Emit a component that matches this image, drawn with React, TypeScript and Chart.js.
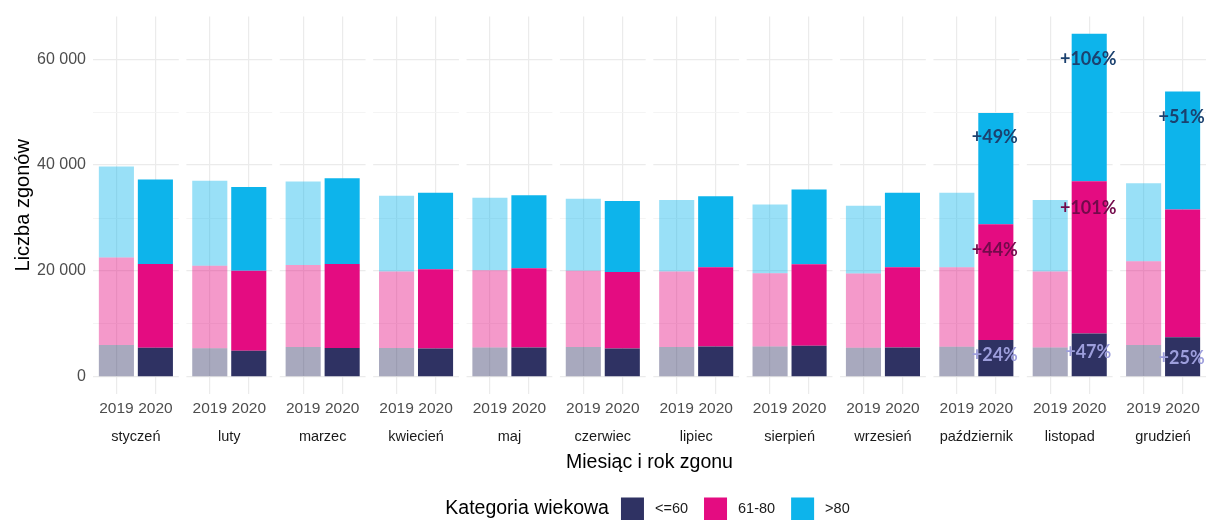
import React, { useEffect, useRef } from 'react';
import { Chart, registerables } from 'chart.js';

Chart.register(...registerables);

const MONTHS = ['styczeń', 'luty', 'marzec', 'kwiecień', 'maj', 'czerwiec', 'lipiec', 'sierpień', 'wrzesień', 'październik', 'listopad', 'grudzień'];
const YEARS = ['2019', '2020'];
const AGE_GROUPS = ['<=60', '61-80', '>80'];

const UNDER60_2019 = [6000, 5380, 5625, 5440, 5560, 5625, 5625, 5750, 5500, 5690, 5560, 6000];
const MID_2019 = [16560, 15620, 15505, 14440, 14560, 14435, 14255, 13810, 14000, 15000, 14320, 15810];
const OVER80_2019 = [17190, 16060, 15750, 14310, 13690, 13560, 13500, 13000, 12810, 14060, 13500, 14750];

const UNDER60_2020 = [5500, 4940, 5440, 5370, 5560, 5370, 5750, 5870, 5560, 6940, 8190, 7500];
const MID_2020 = [15810, 15120, 15870, 14940, 14940, 14440, 14940, 15380, 15130, 21880, 28750, 24130];
const OVER80_2020 = [15940, 15810, 16190, 14440, 13810, 13380, 13440, 14130, 14060, 21000, 27880, 22240];

const Y_TICKS = [0, 10000, 20000, 30000, 40000, 50000, 60000];
const Y_LABELED = [0, 20000, 40000, 60000];

const ANNOT_TEXT = ['+49%', '+44%', '+24%', '+106%', '+101%', '+47%', '+51%', '+25%'];
const ANNOT_MONTH = [9, 9, 9, 10, 10, 10, 11, 11];
const ANNOT_GROUP = [2, 1, 0, 2, 1, 0, 2, 0];
const ANNOT_Y = [45200, 24000, 4130, 60000, 31890, 4690, 48960, 3560];

// layout (facet-like panels on a linear axis)
const PERIOD = 2.395;
const X_MIN = 0.4;
const X_MAX = 11 * PERIOD + 2.6;
const xPos = (m: number, y: number) => m * PERIOD + 1 + y;

const SOLID = ['#2f3263', '#e40c81', '#0db4eb'];
const FADED = ['rgba(47,50,99,0.42)', 'rgba(228,12,129,0.42)', 'rgba(13,180,235,0.42)'];
const ANNOT_COLORS = ['#9d9edc', '#730a4b', '#1b416f'];
const FONT = '"Liberation Sans", Arial, sans-serif';

const fmt = (v: number) => String(v).replace(/\B(?=(\d{3})+(?!\d))/g, ' ');

export default function App() {
  const ref = useRef<HTMLCanvasElement | null>(null);

  useEffect(() => {
    document.body.style.margin = '0';
    const canvas = ref.current;
    if (!canvas) return;

    const groups = [
      [UNDER60_2019, UNDER60_2020],
      [MID_2019, MID_2020],
      [OVER80_2019, OVER80_2020],
    ];

    const datasets = groups.map((g, gi) => {
      const data: { x: number; y: number }[] = [];
      const colors: string[] = [];
      MONTHS.forEach((_, m) => {
        YEARS.forEach((__, yi) => {
          data.push({ x: xPos(m, yi), y: g[yi][m] });
          colors.push(yi === 0 ? FADED[gi] : SOLID[gi]);
        });
      });
      return {
        label: AGE_GROUPS[gi],
        data,
        backgroundColor: colors,
        borderWidth: 0,
        stack: 'all',
        categoryPercentage: 1,
        barPercentage: 0.9,
      };
    });

    const tickPositions: number[] = [];
    MONTHS.forEach((_, m) => YEARS.forEach((__, yi) => tickPositions.push(xPos(m, yi))));

    const panelPlugin = {
      id: 'panels',
      beforeDatasetsDraw(chart: any) {
        const { ctx, chartArea, scales } = chart;
        const xs = scales.x;
        ctx.save();
        ctx.fillStyle = '#ffffff';
        for (let i = 0; i < MONTHS.length - 1; i++) {
          const x1 = xs.getPixelForValue(i * PERIOD + 2.6);
          const x2 = xs.getPixelForValue((i + 1) * PERIOD + 0.4);
          ctx.fillRect(x1, chartArea.top - 2, x2 - x1, chartArea.bottom - chartArea.top + 4);
        }
        ctx.restore();
      },
      afterDraw(chart: any) {
        const { ctx, chartArea, scales } = chart;
        const xs = scales.x;
        const ys = scales.y;
        ctx.save();

        // month labels
        ctx.fillStyle = '#1a1a1a';
        ctx.font = `14.5px ${FONT}`;
        ctx.textAlign = 'center';
        ctx.textBaseline = 'middle';
        MONTHS.forEach((name, m) => {
          ctx.fillText(name, xs.getPixelForValue(m * PERIOD + 1.5), 437);
        });

        // axis titles
        ctx.fillStyle = '#000000';
        ctx.font = `19.5px ${FONT}`;
        ctx.fillText('Miesiąc i rok zgonu', (chartArea.left + chartArea.right) / 2, 463);
        ctx.save();
        ctx.translate(23, (chartArea.top + chartArea.bottom) / 2);
        ctx.rotate(-Math.PI / 2);
        ctx.font = `20px ${FONT}`;
        ctx.fillText('Liczba zgonów', 0, 0);
        ctx.restore();

        // annotations
        ctx.font = `bold 18px Lato, "Open Sans", sans-serif`;
        ANNOT_TEXT.forEach((t, i) => {
          ctx.fillStyle = ANNOT_COLORS[ANNOT_GROUP[i]];
          ctx.fillText(t, xs.getPixelForValue(xPos(ANNOT_MONTH[i], 1)) - 1, ys.getPixelForValue(ANNOT_Y[i]));
        });

        // legend
        const title = 'Kategoria wiekowa';
        const titleFont = `19.5px ${FONT}`;
        const labelFont = `14.5px ${FONT}`;
        ctx.font = titleFont;
        const titleW = ctx.measureText(title).width;
        ctx.font = labelFont;
        const labelWs = AGE_GROUPS.map((l) => ctx.measureText(l).width);
        const box = 23, gapTitle = 12, gapLabel = 11, gapItem = 16;
        let total = titleW;
        labelWs.forEach((w, i) => {
          total += gapTitle * (i === 0 ? 1 : 0) + (i > 0 ? gapItem : 0) + box + gapLabel + w;
        });
        let x = (chartArea.left + chartArea.right) / 2 - total / 2 - 2;
        const cy = 509;
        ctx.textAlign = 'left';
        ctx.fillStyle = '#000000';
        ctx.font = titleFont;
        ctx.fillText(title, x, cy);
        x += titleW + gapTitle;
        AGE_GROUPS.forEach((l, i) => {
          if (i > 0) x += gapItem;
          ctx.fillStyle = SOLID[i];
          ctx.fillRect(x, cy - box / 2, box, box);
          x += box + gapLabel;
          ctx.fillStyle = '#1a1a1a';
          ctx.font = labelFont;
          ctx.fillText(l, x, cy);
          x += labelWs[i];
        });

        ctx.restore();
      },
    };

    const chart = new Chart(canvas, {
      type: 'bar',
      data: { datasets: datasets as any },
      options: {
        animation: false,
        responsive: false,
        maintainAspectRatio: false,
        layout: { padding: { top: 14, right: 1, left: 0, bottom: 0 } },
        plugins: { legend: { display: false }, tooltip: { enabled: false } },
        scales: {
          x: {
            type: 'linear',
            min: X_MIN,
            max: X_MAX,
            offset: false,
            stacked: true,
            grid: { offset: false, color: '#ebebeb', lineWidth: 1.2, drawTicks: false },
            border: { display: false },
            afterBuildTicks: (s: any) => {
              s.ticks = tickPositions.map((v) => ({ value: v }));
            },
            afterFit: (s: any) => {
              s.height = 126;
            },
            ticks: {
              autoSkip: false,
              maxRotation: 0,
              minRotation: 0,
              padding: 5,
              color: '#4d4d4d',
              font: { family: FONT, size: 15.5 },
              callback: (_v: any, i: number) => YEARS[i % 2],
            },
          },
          y: {
            type: 'linear',
            stacked: true,
            min: -3240,
            max: 68040,
            afterBuildTicks: (s: any) => {
              s.ticks = Y_TICKS.map((v) => ({ value: v }));
            },
            afterFit: (s: any) => {
              s.width = 93;
            },
            grid: {
              color: (c: any) => (c.tick && c.tick.value % 20000 === 0 ? '#ebebeb' : '#f3f3f3'),
              lineWidth: (c: any) => (c.tick && c.tick.value % 20000 === 0 ? 1.3 : 0.9),
              drawTicks: false,
            },
            border: { display: false },
            ticks: {
              autoSkip: false,
              padding: 7,
              color: '#4d4d4d',
              font: { family: FONT, size: 16 },
              callback: (v: any) => (Y_LABELED.includes(Number(v)) ? fmt(Number(v)) : ''),
            },
          },
        },
      },
      plugins: [panelPlugin],
    });

    return () => chart.destroy();
  }, []);

  return (
    <div style={{ width: 1207, height: 520 }}>
      <canvas ref={ref} width={1207} height={520} style={{ display: 'block' }} />
    </div>
  );
}
